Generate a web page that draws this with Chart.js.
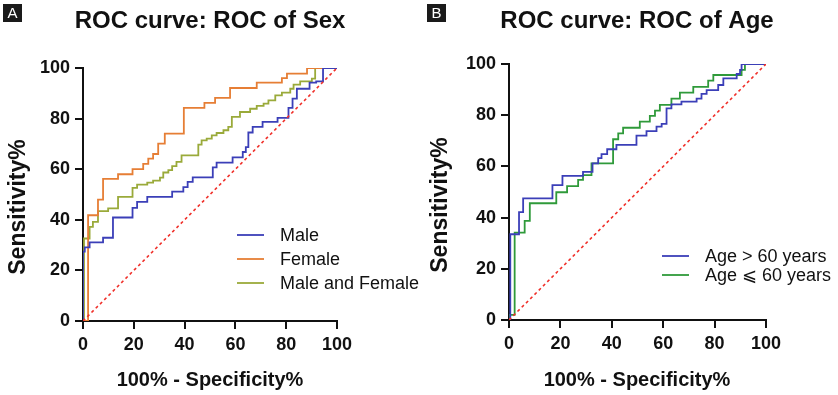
<!DOCTYPE html>
<html>
<head>
<meta charset="utf-8">
<script src="https://cdn.jsdelivr.net/npm/chart.js@4"></script>
<style>
  html, body { margin: 0; padding: 0; background: #fff; }
  body { width: 838px; height: 395px; position: relative; overflow: hidden; }
  canvas { position: absolute; top: 0; }
  #chartA { left: 0; }
  #chartB { left: 420px; }
</style>
</head>
<body>
<canvas id="chartA" width="420" height="395"></canvas>
<canvas id="chartB" width="418" height="395"></canvas>
<script>
// tick values shared by both axes
const axisTicks = [0, 20, 40, 60, 80, 100];

// reference line
const diagX = [0, 100];
const diagY = [0, 100];

// Panel A - ROC of Sex (100% - specificity, sensitivity)
const maleX = [0, 0, 0.7, 2.6, 7.9, 11.8, 19.5, 21.3, 25.3, 35.1, 39.5, 41.2, 43.2, 51.1, 52.6, 58.9, 62.9, 64.1, 65.1, 66.8, 70.7, 76.6, 80.9, 82.5, 84.2, 89.2, 91.8, 94.5, 100];
const maleY = [0, 27.4, 29.1, 31.1, 32.9, 40.9, 44.7, 47.1, 49.1, 51.1, 52.9, 55.0, 56.8, 60.7, 62.6, 64.7, 66.8, 68.7, 74.5, 76.7, 78.7, 80.3, 84.2, 87.9, 91.8, 94.2, 94.7, 100, 100];

const femaleX = [0, 2.0, 5.9, 7.9, 13.8, 19.5, 23.7, 25.7, 27.6, 29.6, 32.2, 39.7, 47.8, 52.0, 57.9, 68.4, 78.3, 80.3, 88.2, 100];
const femaleY = [0, 41.8, 48.0, 56.2, 58.0, 60.0, 62.1, 64.2, 66.0, 70.1, 74.1, 84.2, 86.2, 88.2, 92.1, 94.2, 96.0, 97.8, 100, 100];

const bothX = [0, 0.4, 2.6, 3.9, 5.9, 9.9, 13.8, 19.5, 21.3, 25.3, 27.6, 30.3, 31.6, 33.6, 35.1, 36.8, 38.8, 45.4, 46.7, 48.7, 50.7, 52.6, 55.3, 57.2, 58.6, 61.8, 65.8, 68.4, 71.1, 73.0, 75.7, 78.3, 81.6, 82.9, 85.5, 90.1, 91.4, 100];
const bothY = [0, 32.6, 37.2, 39.2, 43.4, 44.5, 49.1, 52.6, 53.9, 54.7, 55.5, 56.7, 58.7, 59.6, 61.2, 62.9, 65.5, 69.7, 71.4, 72.1, 73.4, 74.3, 75.4, 76.7, 80.7, 82.6, 83.9, 85.0, 85.9, 87.2, 89.2, 90.3, 91.8, 93.4, 94.7, 95.8, 100, 100];

// Panel B - ROC of Age
const olderX = [0, 0.5, 3.9, 5.5, 16.9, 20.8, 28.8, 32.5, 34.7, 36.0, 38.2, 41.8, 49.6, 53.5, 57.4, 59.4, 61.3, 63.2, 67.1, 73.0, 74.9, 76.9, 81.4, 83.4, 88.6, 89.9, 90.5, 100];
const olderY = [0, 33.5, 42.1, 47.5, 52.7, 56.3, 57.9, 61.2, 63.2, 64.8, 66.7, 68.4, 72.0, 73.8, 75.5, 76.6, 82.7, 84.2, 85.3, 86.5, 88.3, 89.8, 91.8, 94.4, 96.1, 97.7, 100, 100];

const youngerX = [0, 0, 2.2, 6.1, 8.1, 18.4, 22.6, 26.9, 28.8, 32.1, 40.5, 42.5, 44.4, 50.9, 54.8, 56.8, 58.7, 63.2, 66.5, 71.7, 77.5, 79.5, 90.5, 91.8, 100];
const youngerY = [0, 2.0, 34.1, 38.7, 45.6, 49.9, 52.3, 54.7, 56.6, 61.2, 70.6, 72.9, 75.1, 77.5, 79.7, 81.8, 84.0, 86.5, 88.8, 91.1, 93.5, 95.7, 97.7, 100, 100];

function pts(xs, ys) {
    return xs.map((x, i) => ({ x: x, y: ys[i] }));
}

function curve(label, xs, ys, color) {
    return {
        label: label,
        data: pts(xs, ys),
        borderColor: color,
        borderWidth: 1.8,
        pointRadius: 0,
        stepped: 'before',
        fill: false
    };
}

function diagonal() {
    return {
        label: '',
        data: pts(diagX, diagY),
        borderColor: '#f0302a',
        borderWidth: 1.6,
        borderDash: [3, 3],
        pointRadius: 0,
        fill: false,
        hideInLegend: true
    };
}

// draws panel letter, title, axis titles and legend
const decor = {
    id: 'decor',
    afterDraw(chart, args, o) {
        const ctx = chart.ctx;
        ctx.save();
        // panel letter
        ctx.fillStyle = '#1a1a1a';
        ctx.fillRect(o.letterX, 4, 19, 18);
        ctx.fillStyle = '#fff';
        ctx.font = '15px "Liberation Sans", Arial, sans-serif';
        ctx.textAlign = 'center';
        ctx.textBaseline = 'middle';
        ctx.fillText(o.letter, o.letterX + 9.5, 13.5);

        ctx.fillStyle = '#111';
        ctx.font = 'bold 24px "Liberation Sans", Arial, sans-serif';
        ctx.fillText(o.title, o.titleX, 21);

        ctx.font = 'bold 20px "Liberation Sans", Arial, sans-serif';
        ctx.fillText('100% - Specificity%', o.xTitleX, 380);

        ctx.save();
        ctx.translate(o.yTitleX, o.yTitleY);
        ctx.rotate(-Math.PI / 2);
        ctx.font = 'bold 23px "Liberation Sans", Arial, sans-serif';
        ctx.fillText('Sensitivity%', 0, 0);
        ctx.restore();

        // legend
        ctx.font = '18px "Liberation Sans", Arial, sans-serif';
        ctx.textAlign = 'left';
        let row = 0;
        chart.data.datasets.forEach(ds => {
            if (ds.hideInLegend) return;
            const y = o.legendY + row * o.legendGap;
            ctx.strokeStyle = ds.borderColor;
            ctx.lineWidth = 1.8;
            ctx.beginPath();
            ctx.moveTo(o.legendX, y);
            ctx.lineTo(o.legendX + 27, y);
            ctx.stroke();
            ctx.fillStyle = '#111';
            ctx.fillText(ds.label, o.legendX + 43, y + 1);
            row++;
        });
        ctx.restore();
    }
};

function axisScale(fitKey, fitSize, padding) {
    return {
        type: 'linear',
        min: 0,
        max: 100,
        afterBuildTicks: s => { s.ticks = axisTicks.map(v => ({ value: v })); },
        afterFit: s => { s[fitKey] = fitSize; },
        border: { display: true, color: '#111', width: 2 },
        grid: { drawOnChartArea: false, drawTicks: true, tickLength: 8, color: '#111', lineWidth: 2 },
        ticks: {
            color: '#111',
            padding: padding,
            maxRotation: 0,
            font: { family: '"Liberation Sans", Arial, sans-serif', size: 18, weight: 'bold' }
        }
    };
}

function makeChart(id, datasets, geo, deco) {
    return new Chart(document.getElementById(id), {
        type: 'line',
        data: { datasets: datasets },
        options: {
            responsive: false,
            animation: false,
            devicePixelRatio: 1,
            layout: { padding: { top: geo.top, right: geo.right, left: 0, bottom: 0 } },
            plugins: {
                legend: { display: false },
                tooltip: { enabled: false },
                decor: deco
            },
            scales: {
                x: axisScale('height', geo.xHeight, 5),
                y: axisScale('width', geo.yWidth, 5)
            }
        },
        plugins: [decor]
    });
}

makeChart('chartA', [
    diagonal(),
    curve('Male', maleX, maleY, '#3b3fb8'),
    curve('Female', femaleX, femaleY, '#e67e35'),
    curve('Male and Female', bothX, bothY, '#9aaa3a')
], { top: 68, right: 83, xHeight: 74, yWidth: 83 }, {
    letter: 'A', letterX: 3, title: 'ROC curve: ROC of Sex', titleX: 210,
    xTitleX: 210, yTitleX: 19, yTitleY: 207,
    legendX: 237, legendY: 235, legendGap: 24
});

makeChart('chartB', [
    diagonal(),
    curve('Age > 60 years', olderX, olderY, '#3b3fb8'),
    curve('Age \u2A7D 60 years', youngerX, youngerY, '#2f9a3a')
], { top: 64, right: 72, xHeight: 75, yWidth: 89 }, {
    letter: 'B', letterX: 7, title: 'ROC curve: ROC of Age', titleX: 217,
    xTitleX: 217, yTitleX: 21, yTitleY: 205,
    legendX: 242, legendY: 256, legendGap: 19
});
</script>
</body>
</html>
